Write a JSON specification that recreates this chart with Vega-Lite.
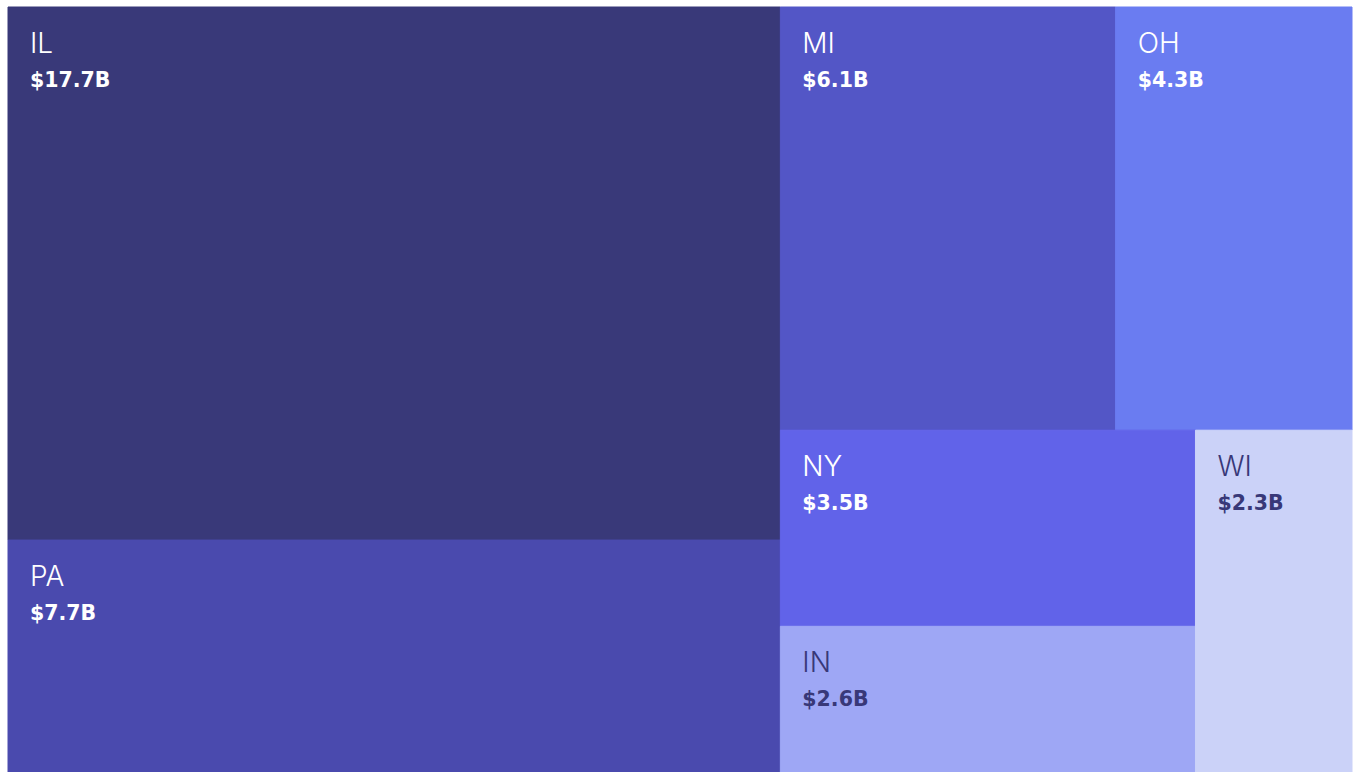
{
  "$schema": "https://vega.github.io/schema/vega-lite/v6.json",
  "width": 1344,
  "height": 765,
  "autosize": "none",
  "padding": {"left": 8, "top": 7, "right": 1, "bottom": 0},
  "background": "#ffffff",
  "config": {"view": {"stroke": null}},
  "data": {
    "values": [
      {"state": "IL", "value": 17.7, "l1": "A", "l2": "IL", "l3": "IL", "l4": "IL"},
      {"state": "PA", "value": 7.7, "l1": "A", "l2": "PA", "l3": "PA", "l4": "PA"},
      {"state": "MI", "value": 6.1, "l1": "B", "l2": "B1", "l3": "MI", "l4": "MI"},
      {"state": "OH", "value": 4.3, "l1": "B", "l2": "B1", "l3": "OH", "l4": "OH"},
      {"state": "NY", "value": 3.5, "l1": "B", "l2": "B2", "l3": "B2a", "l4": "NY"},
      {"state": "IN", "value": 2.6, "l1": "B", "l2": "B2", "l3": "B2a", "l4": "IN"},
      {"state": "WI", "value": 2.3, "l1": "B", "l2": "B2", "l3": "WI", "l4": "WI"}
    ]
  },
  "transform": [
    {"joinaggregate": [{"op": "sum", "field": "value", "as": "total"}]},
    {"joinaggregate": [{"op": "sum", "field": "value", "as": "g1sum"}], "groupby": ["l1"]},
    {"joinaggregate": [{"op": "sum", "field": "value", "as": "g2sum"}], "groupby": ["l1", "l2"]},
    {"joinaggregate": [{"op": "sum", "field": "value", "as": "g3sum"}], "groupby": ["l1", "l2", "l3"]},
    {"window": [{"op": "sum", "field": "value", "as": "c1"}], "frame": [null, 0],
     "sort": [{"field": "g1sum", "order": "descending"}, {"field": "l1"}, {"field": "g2sum", "order": "descending"}, {"field": "l2"}, {"field": "g3sum", "order": "descending"}, {"field": "l3"}, {"field": "value", "order": "descending"}, {"field": "l4"}]},
    {"calculate": "datum.c1 - datum.value", "as": "r1"},
    {"joinaggregate": [{"op": "min", "field": "r1", "as": "a1"}], "groupby": ["l1"]},
    {"window": [{"op": "sum", "field": "value", "as": "c2"}], "frame": [null, 0], "groupby": ["l1"],
     "sort": [{"field": "g2sum", "order": "descending"}, {"field": "l2"}, {"field": "g3sum", "order": "descending"}, {"field": "l3"}, {"field": "value", "order": "descending"}, {"field": "l4"}]},
    {"calculate": "datum.c2 - datum.value", "as": "r2"},
    {"joinaggregate": [{"op": "min", "field": "r2", "as": "a2"}], "groupby": ["l1", "l2"]},
    {"window": [{"op": "sum", "field": "value", "as": "c3"}], "frame": [null, 0], "groupby": ["l1", "l2"],
     "sort": [{"field": "g3sum", "order": "descending"}, {"field": "l3"}, {"field": "value", "order": "descending"}, {"field": "l4"}]},
    {"calculate": "datum.c3 - datum.value", "as": "r3"},
    {"joinaggregate": [{"op": "min", "field": "r3", "as": "a3"}], "groupby": ["l1", "l2", "l3"]},
    {"window": [{"op": "sum", "field": "value", "as": "c4"}], "frame": [null, 0], "groupby": ["l1", "l2", "l3"],
     "sort": [{"field": "value", "order": "descending"}, {"field": "l4"}]},
    {"calculate": "datum.c4 - datum.value", "as": "a4"},
    {"calculate": "datum.a1 / datum.total", "as": "x0f"},
    {"calculate": "(datum.a1 + datum.g1sum) / datum.total", "as": "x1f"},
    {"calculate": "datum.a2 / datum.g1sum", "as": "y0f"},
    {"calculate": "(datum.a2 + datum.g2sum) / datum.g1sum", "as": "y1f"},
    {"calculate": "datum.x0f + (datum.x1f - datum.x0f) * datum.a3 / datum.g2sum", "as": "X0"},
    {"calculate": "datum.x0f + (datum.x1f - datum.x0f) * (datum.a3 + datum.g3sum) / datum.g2sum", "as": "X1"},
    {"calculate": "datum.y0f + (datum.y1f - datum.y0f) * datum.a4 / datum.g3sum", "as": "Y0"},
    {"calculate": "datum.y0f + (datum.y1f - datum.y0f) * (datum.a4 + datum.value) / datum.g3sum", "as": "Y1"},
    {"calculate": "'$' + format(datum.value, '.1f') + 'B'", "as": "label"}
  ],
  "layer": [
    {
      "mark": {"type": "rect", "strokeWidth": 1},
      "encoding": {
        "x": {"field": "X0", "type": "quantitative", "scale": {"domain": [0, 1], "nice": false, "zero": false}, "axis": null},
        "x2": {"field": "X1"},
        "y": {"field": "Y0", "type": "quantitative", "scale": {"domain": [0, 1], "nice": false, "zero": false, "reverse": true}, "axis": null},
        "y2": {"field": "Y1"},
        "color": {"field": "state", "type": "nominal", "legend": null,
          "scale": {"domain": ["IL", "PA", "MI", "OH", "NY", "IN", "WI"],
                    "range": ["#393979", "#4a4aae", "#5356c6", "#6a7cf1", "#6163e9", "#9ea7f5", "#cbd2f8"]}},
        "stroke": {"field": "state", "type": "nominal", "legend": null,
          "scale": {"domain": ["IL", "PA", "MI", "OH", "NY", "IN", "WI"],
                    "range": ["#393979", "#4a4aae", "#5356c6", "#6a7cf1", "#6163e9", "#9ea7f5", "#cbd2f8"]}}
      }
    },
    {
      "mark": {"type": "text", "align": "left", "baseline": "alphabetic", "dx": 22, "dy": 46, "font": "Inter", "fontWeight": 300, "fontSize": 28},
      "encoding": {
        "x": {"field": "X0", "type": "quantitative"},
        "y": {"field": "Y0", "type": "quantitative"},
        "text": {"field": "state"},
        "color": {"field": "state", "type": "nominal", "legend": null,
          "scale": {"domain": ["IL", "PA", "MI", "OH", "NY", "IN", "WI"],
                    "range": ["#ffffff", "#ffffff", "#ffffff", "#ffffff", "#ffffff", "#383878", "#383878"]}}
      }
    },
    {
      "mark": {"type": "text", "align": "left", "baseline": "alphabetic", "dx": 22, "dy": 80, "font": "DejaVu Sans", "fontWeight": "bold", "fontSize": 20.5},
      "encoding": {
        "x": {"field": "X0", "type": "quantitative"},
        "y": {"field": "Y0", "type": "quantitative"},
        "text": {"field": "label"},
        "color": {"field": "state", "type": "nominal", "legend": null,
          "scale": {"domain": ["IL", "PA", "MI", "OH", "NY", "IN", "WI"],
                    "range": ["#ffffff", "#ffffff", "#ffffff", "#ffffff", "#ffffff", "#383878", "#383878"]}}
      }
    }
  ],
  "resolve": {"scale": {"color": "independent"}}
}
